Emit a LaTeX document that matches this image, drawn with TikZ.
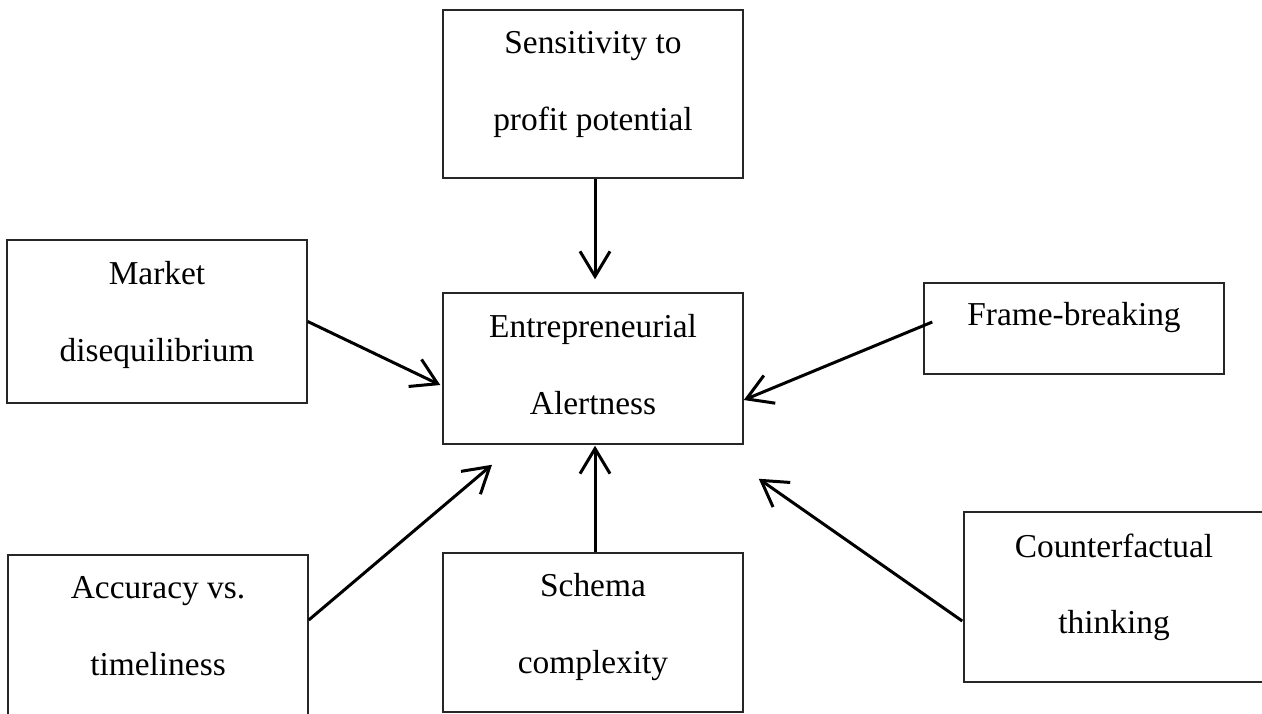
\documentclass[tikz,border=0pt]{standalone}
\usepackage{fontspec}
\setmainfont{Liberation Serif}
\usetikzlibrary{arrows.meta,calc}
\tikzset{
  box/.style={draw=black!85, line width=0.75pt, minimum width=150pt, inner sep=0pt, fill=none},
  lbl/.style={anchor=north, inner sep=0pt, align=center, font=\fontsize{16.7}{38.2}\selectfont},
  link/.style={line width=1.5pt, -{Straight Barb[length=12.5pt,width=15pt,line width=1.5pt]}}
}
\begin{document}
\begin{tikzpicture}[x=0.5pt,y=-0.5pt]
\useasboundingbox (0,0) rectangle (1262,713);
\clip (0,0) rectangle (1262,713);
\fill[white] (0,0) rectangle (1262,713);
% boxes (minimum height in pt = px/2)
\node[box, minimum height=84pt]   (sens)   at (593,94)    {};
\node[box, minimum height=75.5pt] (ent)    at (593,368.5) {};
\node[box, minimum height=81.5pt] (market) at (157,321.5) {};
\node[box, minimum height=45.5pt] (frame)  at (1074,328.5) {};
\node[box, minimum height=82pt]   (acc)    at (158,637)   {};
\node[box, minimum height=79.5pt] (schema) at (593,632.5) {};
\node[box, minimum height=85pt]   (counter) at (1114,597) {};
% labels
\node[lbl] (sensT)   at ($(sens.north)+(0,22)$)    {Sensitivity to\\profit potential};
\node[lbl] (entT)    at ($(ent.north)+(0,22)$)     {Entrepreneurial\\Alertness};
\node[lbl] (marketT) at ($(market.north)+(0,22)$)  {Market\\disequilibrium};
\node[lbl] (frameT)  at ($(frame.north)+(0,20)$)   {Frame-breaking};
\node[lbl] (accT)    at ($(acc.north)+(0,22)$)     {Accuracy vs.\\timeliness};
\node[lbl] (schemaT) at ($(schema.north)+(0,21)$)  {Schema\\complexity};
\node[lbl] (counterT) at ($(counter.north)+(0,22)$) {Counterfactual\\thinking};
% connectors
\draw[link] ($(sens.south)+(2,0)$) -- ($(ent.north)+(2,-13)$);
\draw[link] (market.east) -- ($(ent.west)+(-2,16.5)$);
\draw[link] ($(frame.west)+(9,-6.5)$) -- ($(ent.east)+(0,31.5)$);
\draw[link] ($(acc.east)+(0,-17)$) -- ($(ent.south)+(-101,20)$);
\draw[link] ($(schema.north)+(2,0)$) -- ($(ent.south)+(2,1)$);
\draw[link] ($(counter.west)+(-1,24)$) -- ($(ent.south east)+(15,34)$);
\end{tikzpicture}
\end{document}
